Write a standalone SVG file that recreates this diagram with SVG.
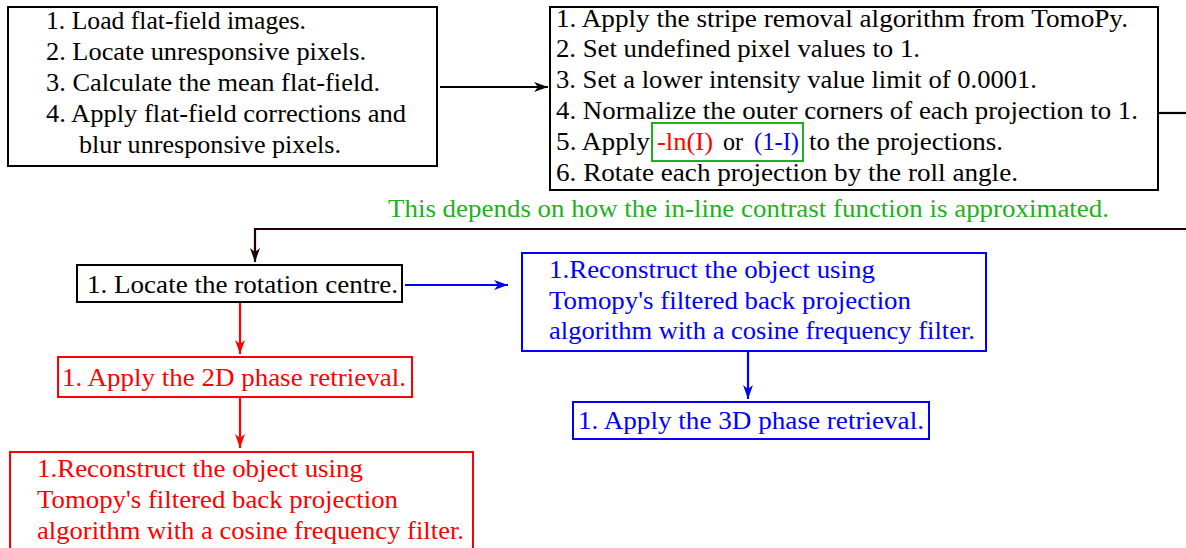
<svg xmlns="http://www.w3.org/2000/svg" width="1186" height="548" viewBox="0 0 1186 548">
<style>
text{font-family:"Liberation Serif","Times New Roman",serif;font-size:25px;}
.k{fill:#000;}
.r{fill:#ff0000;}
.b{fill:#0000ff;}
.g{fill:#1fb01f;}
.box{fill:#fff;stroke-width:2;}
.bk{stroke:#000;}
.rd{stroke:#ff0000;}
.bl{stroke:#0000ff;}
.gr{stroke:#1fb01f;fill:none;stroke-width:2;}
.ln{fill:none;stroke-width:2.2;}
</style>
<defs>
<marker id="ak" markerUnits="userSpaceOnUse" markerWidth="15" markerHeight="12" refX="14" refY="6" orient="auto"><path d="M0,1 L14,6 L0,11 L4,6 Z" fill="#000"/></marker>
<marker id="ad" markerUnits="userSpaceOnUse" markerWidth="15" markerHeight="12" refX="14" refY="6" orient="auto"><path d="M0,1 L14,6 L0,11 L4,6 Z" fill="#200000"/></marker>
<marker id="ar" markerUnits="userSpaceOnUse" markerWidth="15" markerHeight="12" refX="14" refY="6" orient="auto"><path d="M0,1 L14,6 L0,11 L4,6 Z" fill="#ff0000"/></marker>
<marker id="ab" markerUnits="userSpaceOnUse" markerWidth="15" markerHeight="12" refX="14" refY="6" orient="auto"><path d="M0,1 L14,6 L0,11 L4,6 Z" fill="#0000ff"/></marker>
</defs>

<g id="connectors">
<path class="ln" d="M440,87 L548,87" stroke="#000" marker-end="url(#ak)"/>
<path class="ln" d="M1158,113 L1186,113" stroke="#000"/>
<path class="ln" d="M1186,229 L255,229 L255,262" stroke="#200000" marker-end="url(#ad)"/>
<path class="ln" d="M405,285 L508,285" stroke="#0000ff" marker-end="url(#ab)"/>
<path class="ln" d="M748,352 L748,399" stroke="#0000ff" marker-end="url(#ab)"/>
<path class="ln" d="M240,303 L240,354" stroke="#ff0000" marker-end="url(#ar)"/>
<path class="ln" d="M240,397 L240,448" stroke="#ff0000" marker-end="url(#ar)"/>
</g>

<g id="n1">
<rect class="box bk" x="8" y="7" width="429" height="159"/>
<text class="k" x="46" y="29" textLength="260" lengthAdjust="spacingAndGlyphs">1. Load flat-field images.</text>
<text class="k" x="46" y="60" textLength="320" lengthAdjust="spacingAndGlyphs">2. Locate unresponsive pixels.</text>
<text class="k" x="46" y="91" textLength="334" lengthAdjust="spacingAndGlyphs">3. Calculate the mean flat-field.</text>
<text class="k" x="46" y="122" textLength="360" lengthAdjust="spacingAndGlyphs">4. Apply flat-field corrections and</text>
<text class="k" x="79" y="153" textLength="262" lengthAdjust="spacingAndGlyphs">blur unresponsive pixels.</text>
</g>

<g id="n2">
<rect class="box bk" x="550" y="7" width="608" height="183"/>
<text class="k" x="556" y="27" textLength="572" lengthAdjust="spacingAndGlyphs">1. Apply the stripe removal algorithm from TomoPy.</text>
<text class="k" x="556" y="57" textLength="364" lengthAdjust="spacingAndGlyphs">2. Set undefined pixel values to 1.</text>
<text class="k" x="556" y="88" textLength="481" lengthAdjust="spacingAndGlyphs">3. Set a lower intensity value limit of 0.0001.</text>
<text class="k" x="556" y="119" textLength="582" lengthAdjust="spacingAndGlyphs">4. Normalize the outer corners of each projection to 1.</text>
<text class="k" x="556" y="150" textLength="94" lengthAdjust="spacingAndGlyphs">5. Apply</text>
<rect class="gr" x="652" y="123" width="151" height="38"/>
<text class="r" x="657" y="150" textLength="56" lengthAdjust="spacingAndGlyphs">-ln(I)</text>
<text class="k" x="723" y="150" textLength="20" lengthAdjust="spacingAndGlyphs">or</text>
<text class="b" x="754" y="150" textLength="45" lengthAdjust="spacingAndGlyphs">(1-I)</text>
<text class="k" x="809" y="150" textLength="194" lengthAdjust="spacingAndGlyphs">to the projections.</text>
<text class="k" x="556" y="181" textLength="462" lengthAdjust="spacingAndGlyphs">6. Rotate each projection by the roll angle.</text>
</g>

<g id="note">
<text class="g" x="388" y="217" textLength="721" lengthAdjust="spacingAndGlyphs">This depends on how the in-line contrast function is approximated.</text>
</g>

<g id="n3">
<rect class="box bk" x="77" y="265" width="325" height="37"/>
<text class="k" x="87" y="293" textLength="311" lengthAdjust="spacingAndGlyphs">1. Locate the rotation centre.</text>
</g>

<g id="n4">
<rect class="box bl" x="522" y="253" width="464" height="98"/>
<text class="b" x="549" y="278" textLength="326" lengthAdjust="spacingAndGlyphs">1.Reconstruct the object using</text>
<text class="b" x="549" y="309" textLength="362" lengthAdjust="spacingAndGlyphs">Tomopy's filtered back projection</text>
<text class="b" x="549" y="339" textLength="426" lengthAdjust="spacingAndGlyphs">algorithm with a cosine frequency filter.</text>
</g>

<g id="n5">
<rect class="box bl" x="573" y="402" width="356" height="37"/>
<text class="b" x="578" y="429" textLength="346" lengthAdjust="spacingAndGlyphs">1. Apply the 3D phase retrieval.</text>
</g>

<g id="n6">
<rect class="box rd" x="58" y="357" width="354" height="40"/>
<text class="r" x="62" y="386" textLength="344" lengthAdjust="spacingAndGlyphs">1. Apply the 2D phase retrieval.</text>
</g>

<g id="n7">
<rect class="box rd" x="10" y="452" width="463" height="110"/>
<text class="r" x="37" y="477" textLength="326" lengthAdjust="spacingAndGlyphs">1.Reconstruct the object using</text>
<text class="r" x="37" y="508" textLength="361" lengthAdjust="spacingAndGlyphs">Tomopy's filtered back projection</text>
<text class="r" x="37" y="539" textLength="427" lengthAdjust="spacingAndGlyphs">algorithm with a cosine frequency filter.</text>
</g>
</svg>
